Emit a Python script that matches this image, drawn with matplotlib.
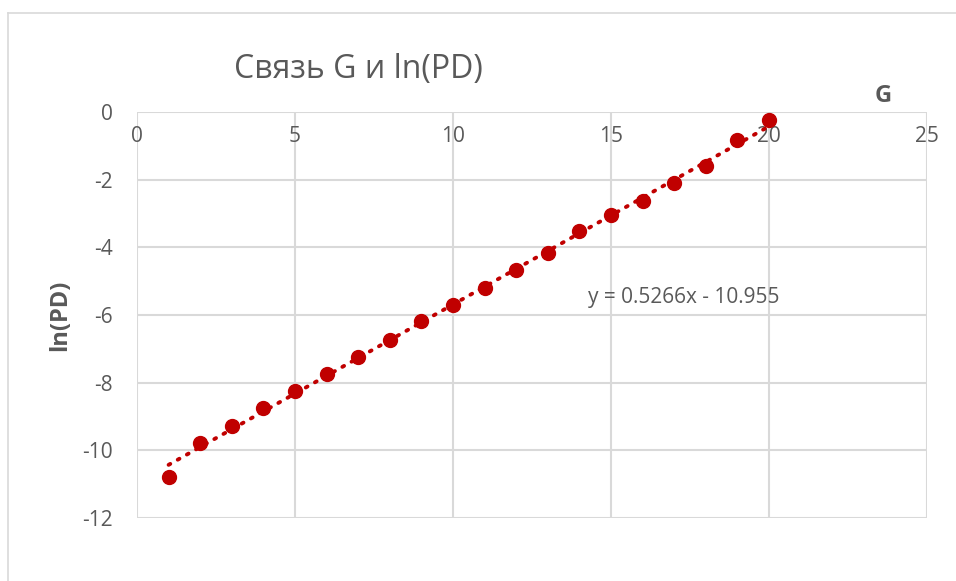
import matplotlib
matplotlib.use('Agg')
import matplotlib.pyplot as plt
from matplotlib.lines import Line2D

plt.rcParams['font.family'] = ['Open Sans', 'DejaVu Sans']
plt.rcParams['axes.unicode_minus'] = False

# data
g_values = [1, 2, 3, 4, 5, 6, 7, 8, 9, 10, 11, 12, 13, 14, 15, 16, 17, 18, 19, 20]
ln_pd = [-10.78, -9.79, -9.29, -8.76, -8.26, -7.73, -7.23, -6.73, -6.19, -5.69,
         -5.19, -4.66, -4.16, -3.51, -3.04, -2.63, -2.09, -1.59, -0.83, -0.25]
trend_slope = 0.5266
trend_intercept = -10.955
x_ticks = [0, 5, 10, 15, 20, 25]
y_ticks = [0, -2, -4, -6, -8, -10, -12]

RED = '#C00000'
GRID = '#D9D9D9'
TEXT = '#595959'

fig = plt.figure(figsize=(9.56, 5.81), dpi=100)
ax = fig.add_axes([0.1433, 0.1084, 0.8264, 0.6988])

# chart area border (left and top edges visible)
fig.add_artist(Line2D([8 / 956, 8 / 956], [0, 1 - 13 / 581], color=GRID, lw=1.2))
fig.add_artist(Line2D([8 / 956, 1], [1 - 13 / 581, 1 - 13 / 581], color=GRID, lw=1.2))

ax.set_xlim(0, 25)
ax.set_ylim(-12, 0)
ax.set_xticks(x_ticks)
ax.set_yticks(y_ticks)
ax.grid(True, color=GRID, linewidth=1.5)
ax.set_axisbelow(True)
for side in ['left', 'right', 'top', 'bottom']:
    ax.spines[side].set_visible(False)

ax.tick_params(axis='x', bottom=False, top=False, labelbottom=False,
               labeltop=True, pad=-29, labelsize=15, labelcolor=TEXT)
ax.tick_params(axis='y', left=False, pad=14, labelsize=15, labelcolor=TEXT)

trend_x = [g_values[0], g_values[-1]]
trend_y = [trend_slope * x + trend_intercept for x in trend_x]
ax.plot(trend_x, trend_y, color=RED, linewidth=2.8,
        linestyle=(0, (0.5, 2.2)), dash_capstyle='round', zorder=2)
ax.plot(g_values, ln_pd, 'o', color=RED, markersize=10, zorder=3)

ax.text(0.571, 0.542, 'y = 0.5266x - 10.955', transform=ax.transAxes,
        fontsize=15, color=TEXT, ha='left', va='center')

ax.set_xlabel('G', fontsize=17, fontweight='bold', color=TEXT)
ax.xaxis.set_label_coords(0.9443, 1.04)
ax.xaxis.label.set_va('center')
ax.set_ylabel('ln(PD)', fontsize=17, fontweight='bold', color=TEXT)
ax.yaxis.set_label_coords(-0.0975, 0.5)
ax.yaxis.label.set_va('center')

fig.text(358 / 956, 1 - 70 / 581, 'Связь G и ln(PD)', fontsize=23,
         color=TEXT, ha='center', va='center')

fig.savefig('out.png', dpi=100)
